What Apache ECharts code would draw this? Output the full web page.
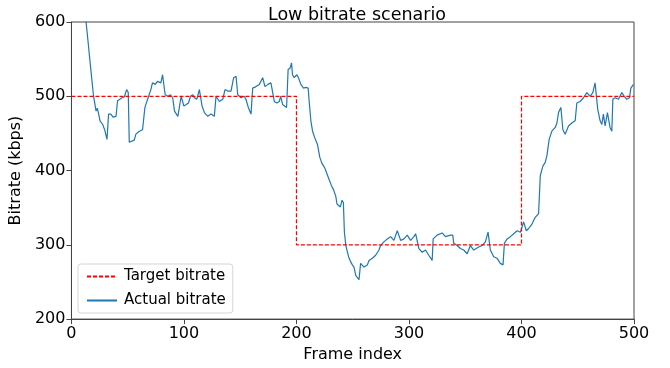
<!DOCTYPE html>
<html>
<head>
<meta charset="utf-8">
<script src="https://cdn.jsdelivr.net/npm/echarts@6/dist/echarts.min.js"></script>
<style>html,body{margin:0;padding:0;background:#fff}#c{width:670px;height:368px}</style>
</head>
<body>
<div id="c"></div>
<script>
const titleText = 'Low bitrate scenario';
const xTicks = [0, 100, 200, 300, 400, 500];
const yTicks = [200, 300, 400, 500, 600];
const targetFrames = [0, 200, 200, 400, 400, 500];
const targetValues = [500, 500, 300, 300, 500, 500];
const actualFrames = [0,5,10,13,15,16.5,17.5,19.5,21.9,23,24.2,25.4,26.9,27.8,29.5,31.6,33,35,37,39.6,41,43,45,47,49,50.5,51.4,53,55.8,57.3,60.3,63.2,65.3,67.7,70.6,72,74.5,76.5,79.5,81,82,83.3,85.7,88,90,91.6,94.6,96,97.5,99.9,102,104,105.8,107.9,109.3,111.4,113.7,115.2,116.1,118.2,119.7,121.2,124.1,127,128.5,131.5,134.5,136.5,138.9,141.8,144.2,146.3,147.8,150.7,153.6,155.1,157.2,159.6,161.1,164,167,170,172,174.6,177.3,178.8,180.3,182.6,184.7,186,187.7,189.2,191.2,192.6,194.4,195.6,196.5,198,200.3,201.8,203.9,206.3,208.3,210.4,211.3,212.8,214.3,216.3,218.7,220.7,222.5,225,227,229,231,233,235,236,239,240.5,241.7,242.6,243.9,246.3,248.2,249.7,251.1,252.7,255.6,257,258.6,260,263,264.5,267.5,270.4,273.3,274.8,277.7,280.7,283.7,286.6,289.6,291,292.6,295.5,298.5,301.4,304.4,305.9,307.4,308.8,311.8,314.7,317.6,320.6,321.5,325,329.5,332.4,336.9,338.9,339.8,342.8,345.7,348.7,351.7,354.6,357.5,362,364.9,367.9,370.3,371.4,372.3,375.3,378.2,381.2,383.6,384.8,387.2,390.1,393.1,396.1,399,400.5,401.9,404.3,406.4,409.3,412.2,415.2,416.7,419,421.1,422.6,424.6,427,430,431.5,432.9,435,436.8,438.8,441.8,444.7,447.7,449.2,452.1,455.1,458.1,461,463.4,465.4,466.9,467.8,469.9,471.4,472.8,474.3,476.4,478.7,480.3,481.2,483.2,486.2,489.2,491.3,493.6,496,497.2,499.6];
const actualValues = [760,700,640,600,570,547,545,502,480,484,476,467,469,462,455,442,476,476,472,473,494,496,498,499,509,505,438,436,441,449,453,455,485,496,509,518,516,520,518,529,531,502,500,502,498,480,473,471,500,487,489,491,500,502,498,496,509,507,487,478,476,473,476,473,500,493,496,509,507,507,525,527,502,498,500,496,485,476,511,513,516,525,513,516,518,520,493,491,493,500,489,487,485,536,538,545,529,525,529,525,516,511,512,511,493,467,453,444,435,418,410,404,396,388,380,374,365,355,351,360,357,317,299,284,277,273,270,259,253,275,277,270,273,279,282,286,293,299,304,308,311,306,319,317,306,308,313,306,311,315,317,295,290,293,286,279,308,313,316,311,313,313,302,299,295,293,288,299,293,297,299,304,317,319,293,284,282,275,273,302,308,311,315,319,317,324,331,319,322,328,337,342,393,406,411,420,442,453,458,464,478,485,455,449,460,464,467,491,493,498,505,500,505,518,520,482,467,462,476,460,478,458,453,496,498,496,505,500,496,498,511,516];

const FONT = 'DejaVu Sans';
const chart = echarts.init(document.getElementById('c'), null, {renderer: 'canvas'});
chart.setOption({
  animation: false,
  backgroundColor: '#fff',
  title: {
    text: titleText, left: 352, top: 1, textAlign: 'center',
    textStyle: {fontFamily: FONT, fontSize: 17.5, fontWeight: 'normal', color: '#000'}
  },
  grid: {left: 70, right: 36, top: 22, bottom: 47, show: true, borderColor: '#444', borderWidth: 1, backgroundColor: 'transparent'},
  legend: {
    orient: 'vertical', left: 78, top: 264,
    data: ['Target bitrate', 'Actual bitrate'],
    itemWidth: 30, itemHeight: 14, itemGap: 9,
    padding: [5, 7, 5, 8],
    backgroundColor: '#fff', borderColor: '#d5d5d5', borderWidth: 1, borderRadius: 3,
    itemStyle: {opacity: 0, borderWidth: 0},
    textStyle: {fontFamily: FONT, fontSize: 15, color: '#000', padding: [0, 0, 0, 2]}
  },
  xAxis: {
    type: 'value', min: xTicks[0], max: xTicks[xTicks.length - 1], interval: 100,
    name: 'Frame index', nameLocation: 'middle', nameGap: 24,
    nameTextStyle: {fontFamily: FONT, fontSize: 16, color: '#000'},
    axisLine: {show: true, lineStyle: {color: '#444', width: 1}},
    axisTick: {show: true, inside: false, length: 5, lineStyle: {color: '#444'}},
    axisLabel: {fontFamily: FONT, fontSize: 16, color: '#000', margin: 7},
    splitLine: {show: false}
  },
  yAxis: {
    type: 'value', min: yTicks[0], max: yTicks[yTicks.length - 1], interval: 100,
    name: 'Bitrate (kbps)', nameLocation: 'middle', nameGap: 37,
    nameTextStyle: {fontFamily: FONT, fontSize: 16, color: '#000'},
    axisLine: {show: true, lineStyle: {color: '#444', width: 1}},
    axisTick: {show: true, inside: false, length: 5, lineStyle: {color: '#444'}},
    axisLabel: {fontFamily: FONT, fontSize: 16, color: '#000', margin: 6},
    splitLine: {show: false}
  },
  series: [
    {
      name: 'Target bitrate', type: 'line', symbol: 'none', clip: true,
      data: targetFrames.map((f, i) => [f, targetValues[i]]),
      lineStyle: {color: '#ff0000', width: 1.2, type: [4, 2]},
      itemStyle: {color: '#ff0000'}, z: 3
    },
    {
      name: 'Actual bitrate', type: 'line', symbol: 'none', clip: true,
      data: actualFrames.map((f, i) => [f, actualValues[i]]),
      lineStyle: {color: '#1f77b4', width: 1.2},
      itemStyle: {color: '#1f77b4'}, z: 2
    }
  ]
});
</script>
</body>
</html>
